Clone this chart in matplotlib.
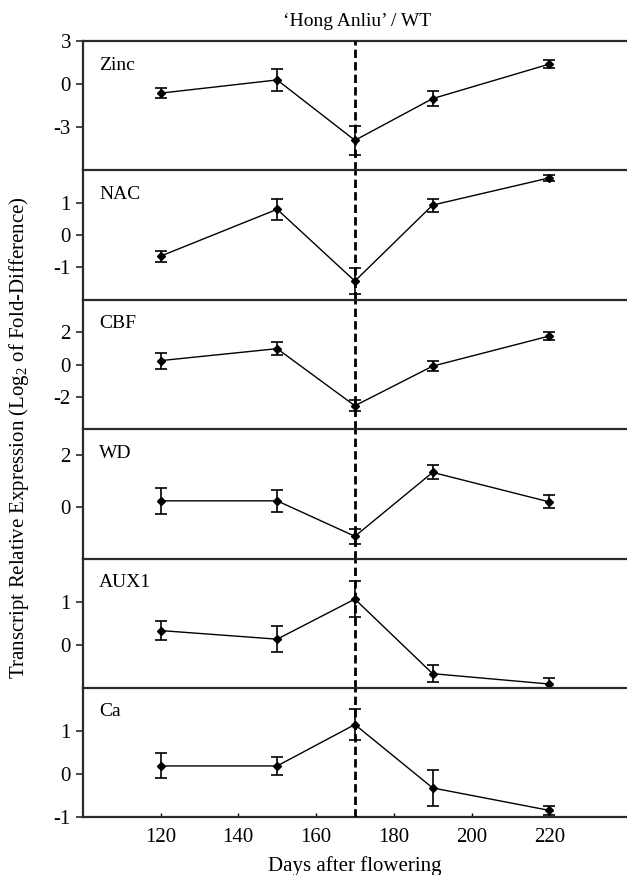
import matplotlib
matplotlib.use("Agg")
import matplotlib.pyplot as plt

plt.rcParams["font.family"] = ["Liberation Serif", "DejaVu Serif"]
plt.rcParams["mathtext.fontset"] = "custom"
plt.rcParams["mathtext.rm"] = "Liberation Serif"
plt.rcParams["axes.unicode_minus"] = False

days = [120, 150, 170, 190, 220]
genes = ["Zinc", "NAC", "CBF", "WD", "AUX1", "Ca"]

zinc = [-0.62, 0.3, -3.9, -1.0, 1.4]
zinc_err = [0.35, 0.75, 1.0, 0.5, 0.3]
nac = [-0.65, 0.8, -1.42, 0.93, 1.77]
nac_err = [0.17, 0.33, 0.41, 0.2, 0.1]
cbf = [0.24, 0.98, -2.55, -0.1, 1.76]
cbf_err = [0.5, 0.4, 0.35, 0.3, 0.23]
wd = [0.23, 0.23, -1.14, 1.33, 0.19]
wd_err = [0.5, 0.43, 0.3, 0.27, 0.25]
aux1 = [0.33, 0.13, 1.06, -0.67, -0.91]
aux1_err = [0.22, 0.3, 0.42, 0.2, 0.13]
ca = [0.19, 0.19, 1.15, -0.32, -0.84]
ca_err = [0.29, 0.2, 0.36, 0.41, 0.1]

values = [zinc, nac, cbf, wd, aux1, ca]
errors = [zinc_err, nac_err, cbf_err, wd_err, aux1_err, ca_err]
ylims = [(-6, 3), (-2, 2), (-4, 4), (-2, 3), (-1, 2), (-1, 2)]
yticks = [[-3, 0, 3], [-1, 0, 1], [-2, 0, 2], [0, 2], [0, 1], [-1, 0, 1]]
xticks = [120, 140, 160, 180, 200, 220]

fig, axes = plt.subplots(6, 1, figsize=(6.27, 8.75), dpi=100, sharex=True)
fig.subplots_adjust(left=0.132, right=1.0, top=0.953, bottom=0.066, hspace=0)

spine_col = "#2a2a2a"
for i, ax in enumerate(axes):
    ax.errorbar(days, values[i], yerr=errors[i], color="black", lw=1.0,
                marker="D", ms=4.5, capsize=4, elinewidth=1.2, capthick=1.2)
    ax.axvline(170, color="black", lw=2, linestyle=(0, (3, 1.5)), zorder=5)
    ax.set_ylim(*ylims[i])
    ax.set_yticks(yticks[i])
    ax.set_xlim(100, 240)
    ax.text(0.03, 0.88, genes[i], transform=ax.transAxes, fontsize=14,
            ha="left", va="top")
    ax.spines["right"].set_visible(False)
    for s in ["top", "left", "bottom"]:
        ax.spines[s].set_color(spine_col)
        ax.spines[s].set_linewidth(1.6)
    if i < 5:
        ax.spines["bottom"].set_visible(False)
        ax.tick_params(axis="x", bottom=False)
    ax.tick_params(axis="y", direction="out", length=5, width=1.2,
                   labelsize=15, colors=spine_col, labelcolor="black")

axes[-1].set_xticks(xticks)
axes[-1].tick_params(axis="x", direction="in", length=3, width=1,
                     labelsize=15, pad=8)
axes[-1].set_xlabel("Days after flowering", fontsize=15, labelpad=6)

fig.text(0.03, 0.5, r"Transcript Relative Expression (Log$_2$ of Fold-Difference)",
         rotation=90, ha="center", va="center", fontsize=15)
fig.text(0.57, 0.975, "\u2018Hong Anliu\u2019 / WT", ha="center", va="center",
         fontsize=14)

fig.savefig("out.png", dpi=100)
